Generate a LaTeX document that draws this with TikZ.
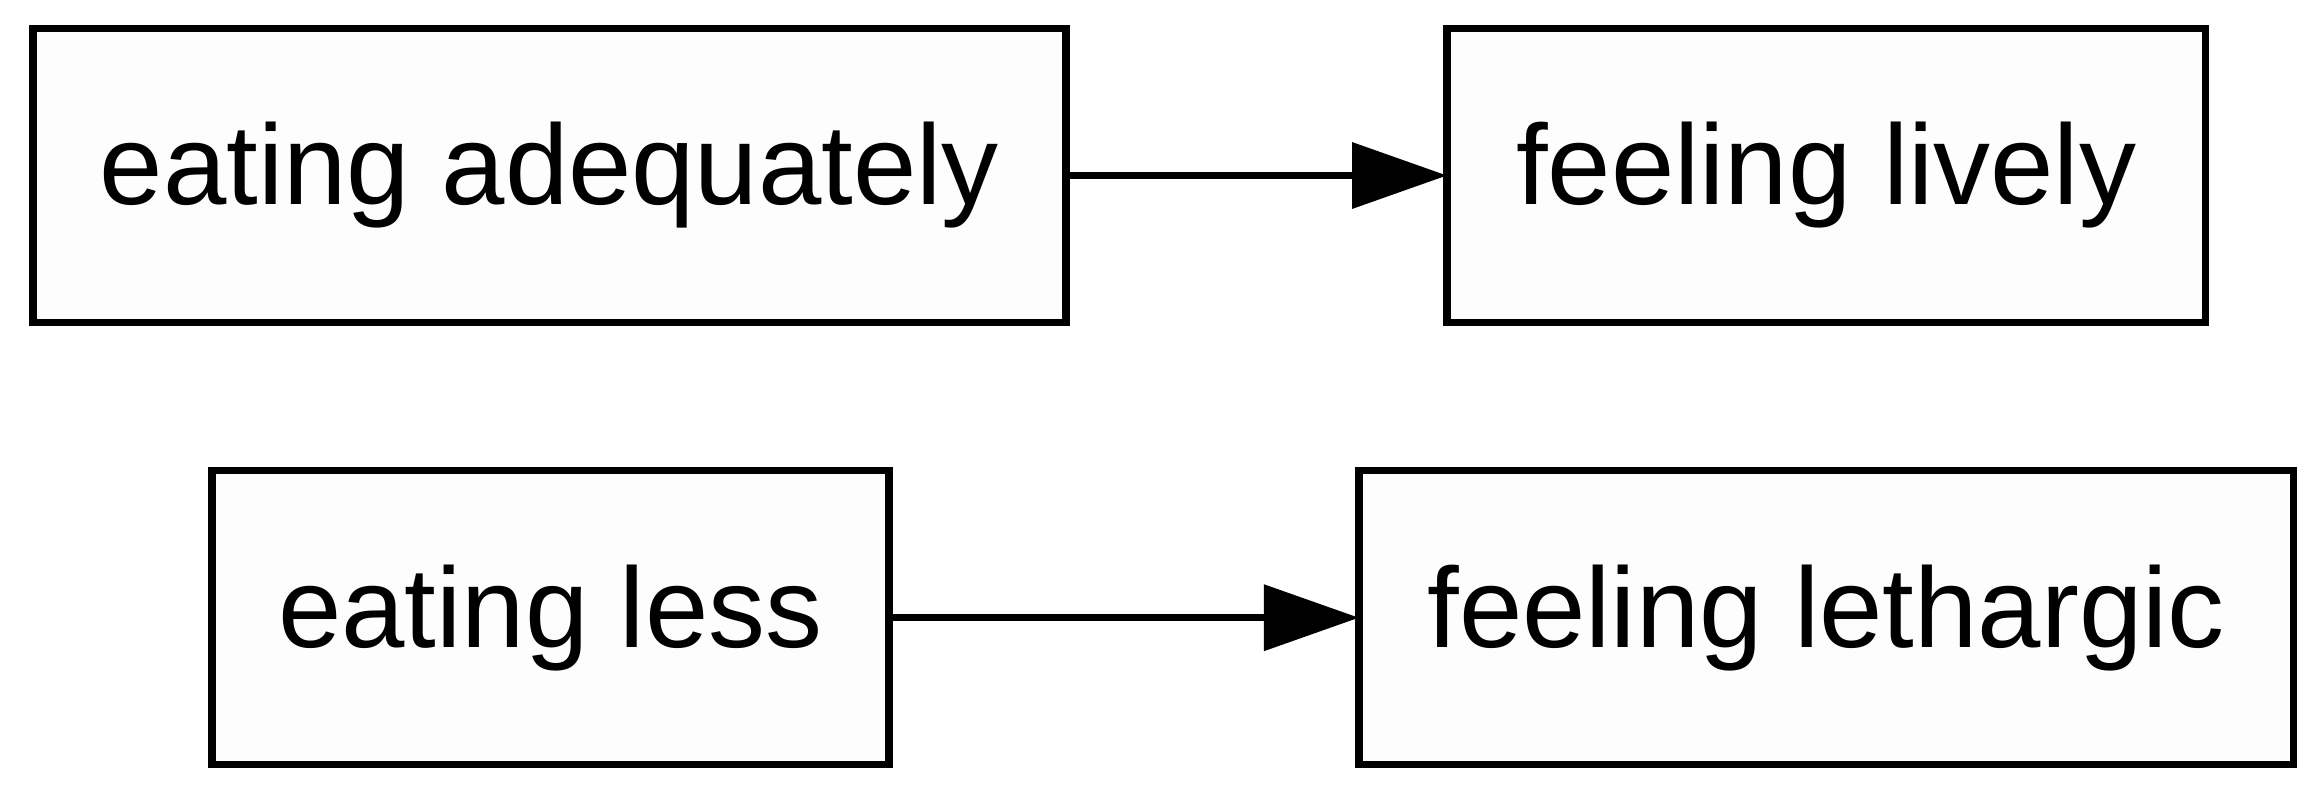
\documentclass[tikz,border=0pt]{standalone}
\usepackage{fontspec}
\setmainfont{Liberation Sans}
\usepackage{tikz}
\usetikzlibrary{arrows.meta, positioning}
\tikzset{
  statebox/.style = {draw=black, line width=0.075cm, fill=gray!1.5,
    inner sep=0pt, outer sep=0pt, minimum height=2.94cm, align=center,
    font=\fontsize{32.4}{38}\selectfont},
  link/.style = {-{Triangle[length=0.95cm, width=0.65cm]}, line width=0.07cm}
}

\begin{document}
\begin{tikzpicture}
\useasboundingbox[fill=white] (0,0) rectangle (23.22,-7.93);
\node [statebox, minimum width=10.33cm] (adequate) at (5.495,-1.755) {eating adequately};
\node [statebox, minimum width=7.585cm, right=3.81cm of adequate] (lively) {feeling lively};
\node [statebox, minimum width=6.77cm] (less) at (5.504,-6.177) {eating less};
\node [statebox, minimum width=9.345cm, right=4.70cm of less] (lethargic) {feeling lethargic};
\draw [link] (adequate) -- (lively);
\draw [link] (less) -- (lethargic);
\end{tikzpicture}
\end{document}
